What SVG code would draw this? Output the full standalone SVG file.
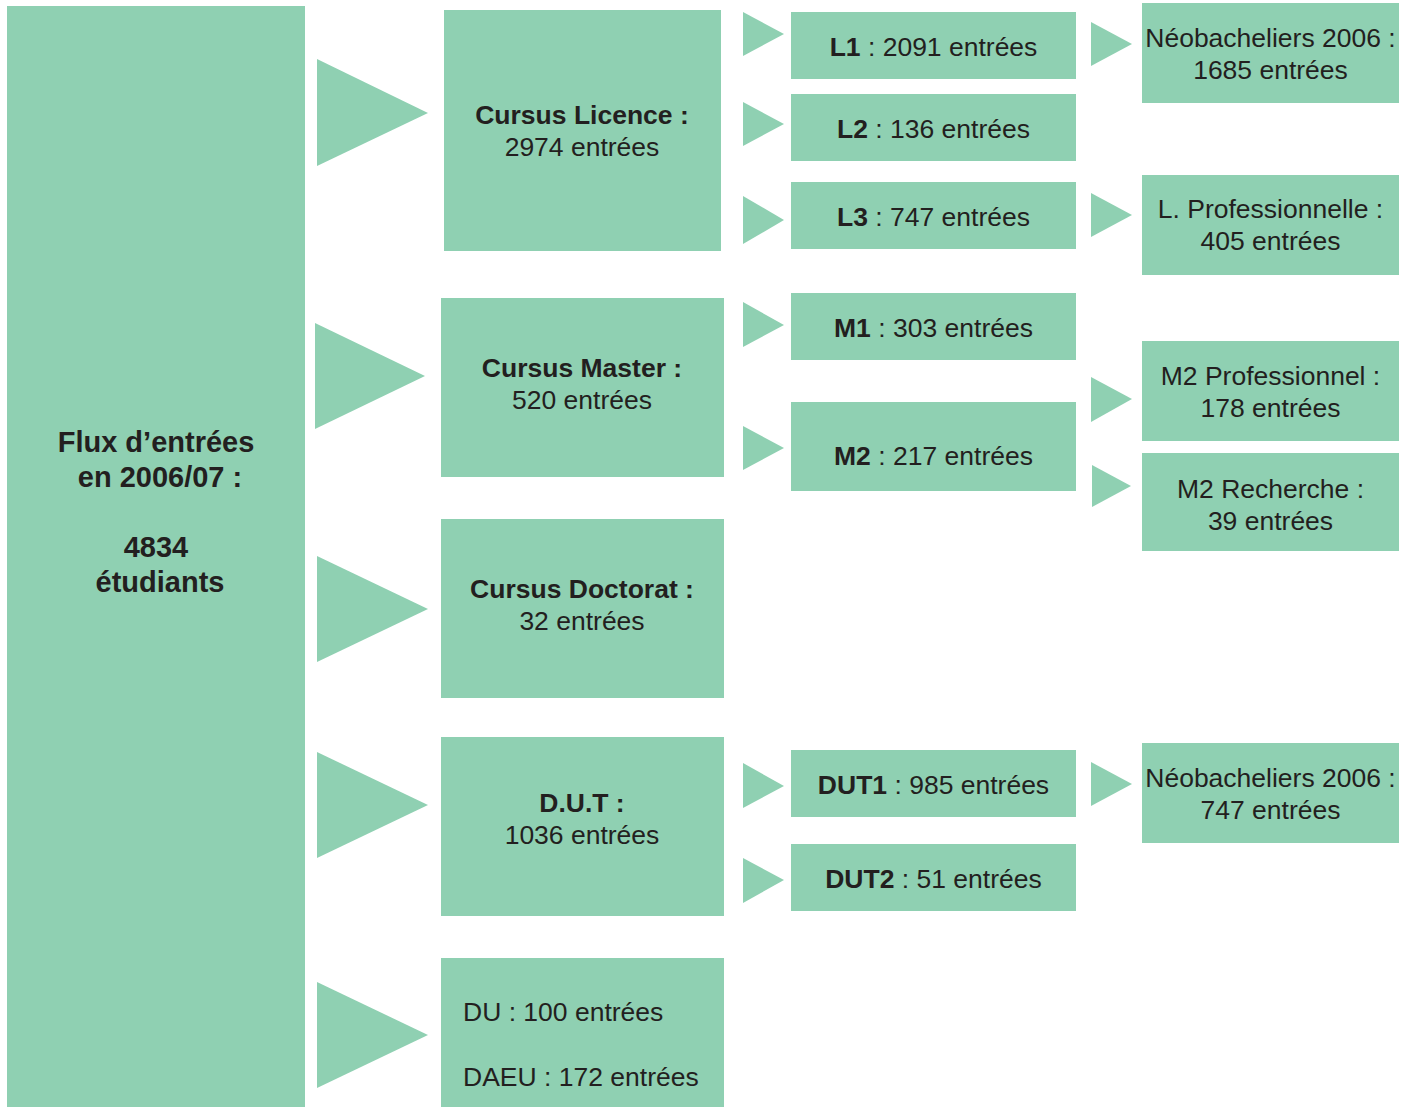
<svg xmlns="http://www.w3.org/2000/svg" width="1413" height="1107" viewBox="0 0 1413 1107">
<style>
.box{fill:#8fd0b2}
.arr{fill:#8fd0b2}
text{font-family:"Liberation Sans",Arial,Helvetica,sans-serif;fill:#231f20;font-size:26.5px;text-anchor:middle}
.b{font-weight:bold}
.big{font-size:29px;font-weight:bold}
.l{text-anchor:start}
</style>
<rect width="1413" height="1107" fill="#ffffff"/>
<g id="connectors">
<polygon class="arr" points="317,59 428,113 317,166"/>
<polygon class="arr" points="315,323 425,376 315,429"/>
<polygon class="arr" points="317,556 428,609 317,662"/>
<polygon class="arr" points="317,752 428,805 317,858"/>
<polygon class="arr" points="317,982 428,1035 317,1088"/>
<polygon class="arr" points="743,12 784,34 743,56"/>
<polygon class="arr" points="743,102 784,124 743,146"/>
<polygon class="arr" points="743,196 784,220 743,244"/>
<polygon class="arr" points="743,302 784,325 743,347"/>
<polygon class="arr" points="743,426 784,448 743,470"/>
<polygon class="arr" points="743,763 784,786 743,808"/>
<polygon class="arr" points="743,858 784,880 743,903"/>
<polygon class="arr" points="1091,22 1132,44 1091,66"/>
<polygon class="arr" points="1091,193 1132,215 1091,237"/>
<polygon class="arr" points="1091,377 1132,399 1091,422"/>
<polygon class="arr" points="1092,465 1131,486 1092,507"/>
<polygon class="arr" points="1091,762 1132,784 1091,806"/>
</g>
<g id="flux">
<rect class="box" x="7" y="6" width="298" height="1101"/>
<text class="big" x="156" y="452">Flux d’entrées</text>
<text class="big" x="160" y="487">en 2006/07 :</text>
<text class="big" x="156" y="557">4834</text>
<text class="big" x="160" y="592">étudiants</text>
</g>
<g id="licence">
<rect class="box" x="444" y="10" width="277" height="241"/>
<text class="b" x="582" y="124">Cursus Licence :</text>
<text x="582" y="156">2974 entrées</text>
</g>
<g id="master">
<rect class="box" x="441" y="298" width="283" height="179"/>
<text class="b" x="582" y="377">Cursus Master :</text>
<text x="582" y="409">520 entrées</text>
</g>
<g id="doctorat">
<rect class="box" x="441" y="519" width="283" height="179"/>
<text class="b" x="582" y="598">Cursus Doctorat :</text>
<text x="582" y="630">32 entrées</text>
</g>
<g id="dut">
<rect class="box" x="441" y="737" width="283" height="179"/>
<text class="b" x="582" y="812">D.U.T :</text>
<text x="582" y="844">1036 entrées</text>
</g>
<g id="du">
<rect class="box" x="441" y="958" width="283" height="149"/>
<text class="l" x="463" y="1021">DU : 100 entrées</text>
<text class="l" x="463" y="1086">DAEU : 172 entrées</text>
</g>
<g id="l1">
<rect class="box" x="791" y="12" width="285" height="67"/>
<text x="933.5" y="56"><tspan class="b">L1</tspan> : 2091 entrées</text>
</g>
<g id="l2">
<rect class="box" x="791" y="94" width="285" height="67"/>
<text x="933.5" y="138"><tspan class="b">L2</tspan> : 136 entrées</text>
</g>
<g id="l3">
<rect class="box" x="791" y="182" width="285" height="67"/>
<text x="933.5" y="226"><tspan class="b">L3</tspan> : 747 entrées</text>
</g>
<g id="m1">
<rect class="box" x="791" y="293" width="285" height="67"/>
<text x="933.5" y="337"><tspan class="b">M1</tspan> : 303 entrées</text>
</g>
<g id="m2">
<rect class="box" x="791" y="402" width="285" height="89"/>
<text x="933.5" y="465"><tspan class="b">M2</tspan> : 217 entrées</text>
</g>
<g id="dut1">
<rect class="box" x="791" y="750" width="285" height="67"/>
<text x="933.5" y="794"><tspan class="b">DUT1</tspan> : 985 entrées</text>
</g>
<g id="dut2">
<rect class="box" x="791" y="844" width="285" height="67"/>
<text x="933.5" y="888"><tspan class="b">DUT2</tspan> : 51 entrées</text>
</g>
<g id="neobac-l1">
<rect class="box" x="1142" y="3" width="257" height="100"/>
<text x="1270.5" y="47">Néobacheliers 2006 :</text>
<text x="1270.5" y="79">1685 entrées</text>
</g>
<g id="lpro">
<rect class="box" x="1142" y="175" width="257" height="100"/>
<text x="1270.5" y="218">L. Professionnelle :</text>
<text x="1270.5" y="250">405 entrées</text>
</g>
<g id="m2pro">
<rect class="box" x="1142" y="341" width="257" height="100"/>
<text x="1270.5" y="385">M2 Professionnel :</text>
<text x="1270.5" y="417">178 entrées</text>
</g>
<g id="m2rech">
<rect class="box" x="1142" y="453" width="257" height="98"/>
<text x="1270.5" y="498">M2 Recherche :</text>
<text x="1270.5" y="530">39 entrées</text>
</g>
<g id="neobac-dut">
<rect class="box" x="1142" y="743" width="257" height="100"/>
<text x="1270.5" y="787">Néobacheliers 2006 :</text>
<text x="1270.5" y="819">747 entrées</text>
</g>
</svg>
